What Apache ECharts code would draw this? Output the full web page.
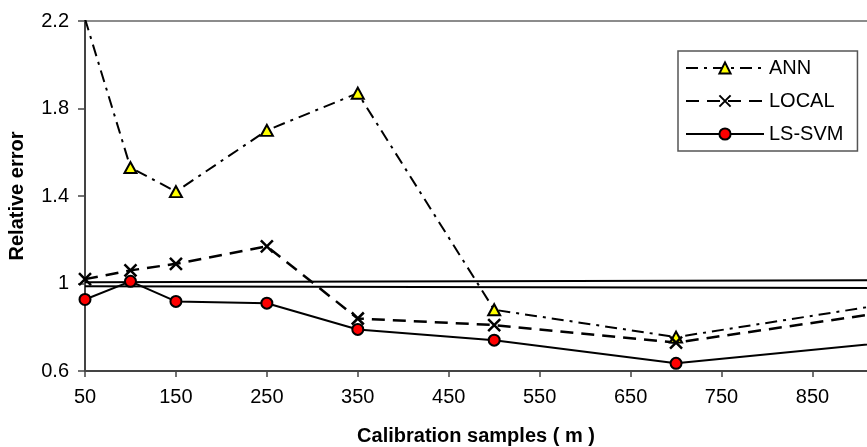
<!DOCTYPE html>
<html>
<head>
<meta charset="utf-8">
<script src="https://cdn.jsdelivr.net/npm/echarts@6/dist/echarts.min.js"></script>
<style>
  html, body { margin: 0; padding: 0; background: #fff; }
  #chart { width: 867px; height: 447px; }
</style>
</head>
<body>
<div id="chart"></div>
<script>
// Calibration sample sizes (m) and relative errors
const samples = [50, 100, 150, 250, 350, 500, 700, 1000]
const annErr = [2.21, 1.53, 1.42, 1.70, 1.87, 0.88, 0.755, 0.95]
const localErr = [1.02, 1.06, 1.09, 1.17, 0.84, 0.81, 0.73, 0.91]
const lssvmErr = [0.927, 1.01, 0.918, 0.91, 0.79, 0.741, 0.635, 0.758]

// the two plain lines round 1
const refX = [50, 1000]
const refUpper = [1.006, 1.016]
const refLower = [0.988, 0.979]

const yTicks = [0.6, 1, 1.4, 1.8, 2.2]

const font = 'Liberation Sans, Arial, sans-serif'
const pairs = (xs, ys) => xs.map((x, i) => [x, ys[i]])

const chart = echarts.init(document.getElementById('chart'))

const refLine = ys => ({
    type: 'line',
    data: pairs(refX, ys),
    symbol: 'none',
    silent: true,
    lineStyle: { color: '#000', width: 2 },
    z: 1,
})

const option = {
    animation: false,
    backgroundColor: '#fff',
    textStyle: { fontFamily: font },
    grid: { left: 85, right: 0, top: 21, bottom: 76, outerBoundsMode: 'none' },
    legend: {
        orient: 'vertical',
        left: 678,
        top: 51,
        padding: [7, 14, 7, 7],
        itemGap: 13,
        itemWidth: 78,
        itemHeight: 14,
        borderColor: '#555',
        borderWidth: 1.5,
        backgroundColor: '#fff',
        textStyle: { fontFamily: font, fontSize: 20, color: '#000' },
        data: ['ANN', 'LOCAL', 'LS-SVM'],
    },
    xAxis: [{
        type: 'value',
        min: 50,
        max: 910,
        interval: 100,
        name: 'Calibration samples ( m )',
        nameLocation: 'middle',
        nameGap: 55,
        nameTextStyle: { fontFamily: font, fontSize: 20, fontWeight: 'bold', color: '#000' },
        axisLine: { show: true, lineStyle: { color: '#444', width: 2 } },
        axisTick: { show: true, length: 6, lineStyle: { color: '#444', width: 1.5 } },
        axisLabel: { fontFamily: font, fontSize: 20, color: '#000', margin: 16, showMaxLabel: false },
        splitLine: { show: false },
    }, {
        // plot frame top edge
        type: 'value',
        position: 'top',
        min: 50,
        max: 910,
        axisLine: { show: true, onZero: false, lineStyle: { color: '#8c8c8c', width: 2 } },
        axisTick: { show: false },
        axisLabel: { show: false },
        splitLine: { show: false },
    }],
    yAxis: {
        type: 'value',
        min: yTicks[0],
        max: yTicks[yTicks.length - 1],
        interval: 0.4,
        name: 'Relative error',
        nameLocation: 'middle',
        nameGap: 58,
        nameTextStyle: { fontFamily: font, fontSize: 20, fontWeight: 'bold', color: '#000' },
        axisLine: { show: true, lineStyle: { color: '#444', width: 2 } },
        axisTick: { show: true, length: 7, lineStyle: { color: '#444', width: 1.5 } },
        axisLabel: { fontFamily: font, fontSize: 20, color: '#000', margin: 16 },
        splitLine: { show: false },
    },
    series: [
        refLine(refUpper),
        refLine(refLower),
        {
            name: 'ANN',
            type: 'line',
            data: pairs(samples, annErr),
            symbol: 'triangle',
            symbolSize: [12, 11],
            itemStyle: { color: '#ffff00', borderColor: '#000', borderWidth: 2 },
            lineStyle: { color: '#000', width: 2, type: [12, 6, 3, 6] },
            z: 3,
        },
        {
            name: 'LOCAL',
            type: 'line',
            data: pairs(samples, localErr),
            symbol: 'path://M0 0L10 10M10 0L0 10',
            symbolSize: 12,
            itemStyle: { color: '#000', borderColor: '#000', borderWidth: 2.5 },
            lineStyle: { color: '#000', width: 2.5, type: [13, 8] },
            z: 3,
        },
        {
            name: 'LS-SVM',
            type: 'line',
            data: pairs(samples, lssvmErr),
            symbol: 'circle',
            symbolSize: 11,
            itemStyle: { color: '#ff0000', borderColor: '#000', borderWidth: 2 },
            lineStyle: { color: '#000', width: 2 },
            z: 4,
        },
    ],
}

chart.setOption(option)
</script>
</body>
</html>
